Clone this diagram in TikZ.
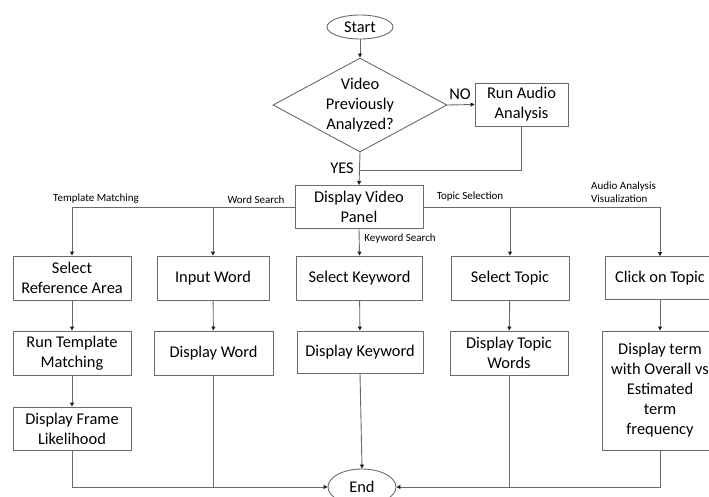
\documentclass[tikz,border=0pt]{standalone}
\usepackage{fontspec}
\setmainfont{Carlito}
\usetikzlibrary{arrows.meta, shapes.geometric}
\definecolor{edge}{HTML}{6A6A6A}
\definecolor{tip}{HTML}{202020}

\begin{document}
\begin{tikzpicture}[x=1pt, y=-1pt,
    stepbox/.style={draw=edge, line width=0.9pt, align=center, inner sep=1pt,
                    font=\fontsize{16.4}{20}\selectfont},
    term/.style={ellipse, draw=edge, line width=0.9pt, inner sep=0pt,
                 font=\fontsize{16.4}{20}\selectfont},
    decision/.style={diamond, draw=edge, line width=0.9pt, aspect=1.85,
                     inner sep=0pt, align=center, font=\fontsize{16.4}{20}\selectfont},
    lbl/.style={inner sep=0pt, align=left, font=\fontsize{11}{13}\selectfont},
    big lbl/.style={inner sep=0pt, font=\fontsize{16.4}{20}\selectfont},
    flow/.style={draw=edge, line width=0.9pt},
    arr/.style={flow, -{Triangle[length=4pt, width=4pt, color=tip]}}]
  \useasboundingbox (0,0) rectangle (709,497);
  % Top
  \node[term, minimum width=66pt, minimum height=24pt] (start) at (360,27) {Start};
  \node[decision, minimum width=174pt, minimum height=94pt] (q) at (360,105)
        {Video\\Previously\\Analyzed?};
  \node[stepbox, minimum width=93pt, minimum height=43pt] (audio) at (521.5,104.5)
        {Run Audio\\Analysis};
  \coordinate (join) at (360,170);
  \node[stepbox, minimum width=128pt, minimum height=43pt] (panel) at (359,207)
        {Display Video\\Panel};
  % Template matching
  \node[stepbox, minimum width=118pt, minimum height=44pt] (selref) at (72,278)
        {Select\\Reference Area};
  \node[stepbox, minimum width=118pt, minimum height=44pt] (tmrun) at (72,353)
        {Run Template\\Matching};
  \node[stepbox, minimum width=118pt, minimum height=43pt] (lik) at (72,428.5)
        {Display Frame\\Likelihood};
  % Word search
  \node[stepbox, minimum width=112pt, minimum height=44pt] (inword) at (213,278)
        {Input Word};
  \node[stepbox, minimum width=119pt, minimum height=44pt] (dword) at (213.5,353)
        {Display Word};
  % Keyword search
  \node[stepbox, minimum width=126pt, minimum height=44pt] (selkw) at (359.5,278)
        {Select Keyword};
  \node[stepbox, minimum width=126pt, minimum height=42pt] (dkw) at (360,352)
        {Display Keyword};
  % Topic selection
  \node[stepbox, minimum width=118pt, minimum height=44pt] (seltop) at (510,278)
        {Select Topic};
  \node[stepbox, minimum width=118pt, minimum height=44pt] (dtop) at (509,353)
        {Display Topic\\Words};
  % Audio analysis visualization
  \node[stepbox, minimum width=110pt, minimum height=43pt] (click) at (660,278)
        {Click on Topic};
  \node[stepbox, minimum width=116pt, minimum height=119pt] (dterm) at (660,390.5)
        {Display term\\with Overall vs\\Estimated\\term\\frequency};
  % End
  \node[term, minimum width=68pt, minimum height=36pt] (end) at (362,487) {End};
  % Labels
  \node[big lbl] (no) at (460,94) {NO};
  \node[big lbl] (yes) at (342,168) {YES};
  \node[lbl] (ltm) at (96,199) {Template Matching};
  \node[lbl] (lws) at (256,200) {Word Search};
  \node[lbl] (lks) at (400,239) {Keyword Search};
  \node[lbl] (lts) at (470,197) {Topic Selection};
  \node[lbl, anchor=west] (lav) at (591,192.5) {Audio Analysis\\Visualization};
  % Arrows
  \draw[arr] (start) -- (q);
  \draw[arr] (q.east) -- (audio.west);
  \draw[flow] (audio.south) |- (join);
  \draw[arr] (q.south) -- (panel.north);
  \draw[arr] (panel.west) -| (selref.north);
  \draw[arr] (panel.west -| inword.north) -- (inword.north);
  \draw[arr] (panel.south) -- (selkw.north);
  \draw[arr] (panel.east) -| (click.north);
  \draw[arr] (panel.east -| seltop.north) -- (seltop.north);
  \draw[arr] (selref) -- (tmrun);
  \draw[arr] (tmrun) -- (lik);
  \draw[arr] (inword) -- (dword);
  \draw[arr] (selkw) -- (dkw);
  \draw[arr] (seltop) -- (dtop);
  \draw[arr] (click) -- (dterm);
  \draw[arr] (lik.south) |- (end.west);
  \draw[flow] (dword.south) -- (dword.south |- end.west);
  \draw[arr] (dkw.south) -- (end.north);
  \draw[arr] (dterm.south) |- (end.east);
  \draw[flow] (dtop.south) -- (dtop.south |- end.east);
\end{tikzpicture}
\end{document}
